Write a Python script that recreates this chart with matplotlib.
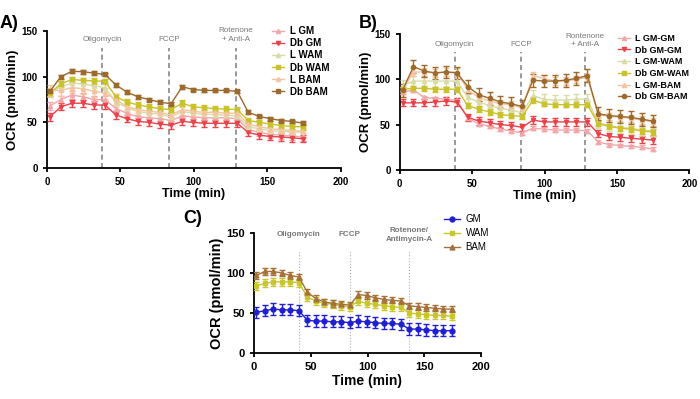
import matplotlib.pyplot as plt
import numpy as np

plt.rcParams['font.family'] = ['Liberation Sans', 'DejaVu Sans']

# measurement times (min)
t = [2, 9.5, 17, 24.5, 32, 39.5, 47, 54.5, 62, 69.5, 77, 84.5,
     92, 99.5, 107, 114.5, 122, 129.5, 137, 144.5, 152, 159.5, 167, 174.5]

# panel A
a_names = ["L GM", "Db GM", "L WAM", "Db WAM", "L BAM", "Db BAM"]
a_l_gm = [68, 75, 80, 78, 75, 75, 65, 60, 56, 55, 54, 52, 57, 56, 55, 55, 55, 54, 42, 39, 37, 36, 35, 34]
a_db_gm = [56, 67, 71, 71, 69, 69, 58, 54, 51, 50, 48, 47, 51, 50, 49, 49, 49, 49, 39, 36, 34.5, 34, 33, 32]
a_l_wam = [83, 89, 93, 92, 90, 88, 72, 66, 62, 60, 59, 56, 62, 60, 59, 58.5, 58, 57, 45, 43, 41, 40, 39.5, 39]
a_db_wam = [82, 92, 97, 96, 95.5, 95, 78, 72.5, 69, 67, 65, 64, 71, 67, 66, 65, 64.5, 64, 52, 50, 48, 46.5, 45.5, 45]
a_l_bam = [85, 85, 88, 87, 84, 82, 75, 67, 64, 62, 61, 58, 64, 62, 61, 61, 60, 60, 48, 45, 43, 42, 41, 40]
a_db_bam = [84, 100, 106, 105.5, 104, 102.5, 91, 83, 78, 75, 72, 70.5, 89, 86, 85, 85, 85, 84, 61, 56.5, 54, 52, 51, 49]
a_err = [4, 4, 5, 3, 6, 2]

# panel B
b_names = ["L GM-GM", "Db GM-GM", "L GM-WAM", "Db GM-WAM", "L GM-BAM", "Db GM-BAM"]
b_l_gm = [86, 88, 80, 79, 78, 77, 57, 51, 48, 45, 43, 41, 46, 45, 44, 44, 44, 43, 31, 28, 27, 26, 25, 23]
b_db_gm = [74, 74, 74, 75, 76, 75, 58, 54, 52, 50, 49, 47, 55, 53, 53, 53, 53, 53, 40, 37, 36, 35, 34, 33]
b_l_wam = [93, 98, 98, 98, 98, 98, 80, 75, 71, 68, 66, 63, 82, 78, 77, 77, 78, 78, 52, 49, 47, 46, 44, 43]
b_db_wam = [89, 90, 90, 89, 89, 89, 71, 67, 64, 61, 60, 59, 77, 73, 72, 72, 72, 72, 51, 48, 46, 45, 43, 42]
b_l_bam = [88, 108, 108, 107, 108, 108, 88, 80, 76, 73, 72, 68, 104, 101, 98, 98, 100, 102, 61, 59, 58, 57, 55, 53]
b_db_bam = [88, 114, 109, 107, 108, 107, 92, 83, 79, 75, 73, 70, 99, 98, 98, 99, 101, 104, 62, 60, 59, 58, 56, 54]
b_err = [2, 4, 6, 3, 4, 7]

# panel C
c_names = ["GM", "WAM", "BAM"]
c_gm = [51, 53, 55, 54, 54, 53, 41, 40, 40, 39, 39, 38, 40, 39, 38, 37, 37, 36, 30, 30, 29, 28, 28, 28]
c_wam = [84, 87, 89, 89, 89, 88, 70, 65, 62, 61, 59, 58, 65, 62, 61, 59, 58, 57, 50, 49, 48, 47, 47, 46]
c_bam = [97, 102, 102, 100, 97, 95, 76, 68, 64, 62, 61, 60, 73, 72, 69, 67, 66, 65, 59, 58, 57, 56, 55, 55]
c_err = [7, 5, 4]

ab_colors = ["#f2a7a9", "#e8424a", "#d9dca6", "#c9c22a", "#f5c3a0", "#9b6a2c"]
a_markers = ["^", "v", "^", "s", "^", "s"]
b_markers = ["^", "v", "^", "s", "^", "o"]
c_colors = ["#1f1fd0", "#c8c62c", "#a5713a"]
c_markers = ["o", "s", "^"]

fig = plt.figure(figsize=(7, 3.99), dpi=100)


def style(ax, fs_tick, fs_lab):
    ax.set_xlim(0, 200)
    ax.set_ylim(0, 150)
    ax.set_xticks([0, 50, 100, 150, 200])
    ax.set_yticks([0, 50, 100, 150])
    for s in ["top", "right"]:
        ax.spines[s].set_visible(False)
    for s in ["left", "bottom"]:
        ax.spines[s].set_linewidth(1.3)
    ax.tick_params(width=1.3, length=3, labelsize=fs_tick)
    for lab in ax.get_xticklabels() + ax.get_yticklabels():
        lab.set_fontweight("bold")
    ax.set_xlabel("Time (min)", fontsize=fs_lab, fontweight="bold", labelpad=1)
    ax.set_ylabel("OCR (pmol/min)", fontsize=fs_lab + 0.5, fontweight="bold", labelpad=2)


def injections(ax, xs, labels, ys, top, ls, lw, col, bold):
    for x, lab, y in zip(xs, labels, ys):
        ax.plot([x, x], [0, top], ls=ls, color=col, lw=lw, zorder=1)
        ax.text(x, y, lab, ha="center", va="bottom", fontsize=5.8, color="#777777",
                fontweight="bold" if bold else "normal", linespacing=1.3)


def draw(ax, series, names, colors, markers, errs, ms):
    handles = []
    for ys, n, c, m, e in zip(series, names, colors, markers, errs):
        cont = ax.errorbar(t, ys, yerr=e, color=c, marker=m, ms=ms, lw=1, capsize=2,
                           elinewidth=1, label=n, zorder=3)
        handles.append(cont.lines[0])
    return handles


# A
axA = fig.add_axes([0.067, 0.579, 0.42, 0.343])
hA = draw(axA, [a_l_gm, a_db_gm, a_l_wam, a_db_wam, a_l_bam, a_db_bam],
          a_names, ab_colors, a_markers, a_err, 3)
injections(axA, [37.5, 83, 128.5], ["Oligomycin", "FCCP", "Rotenone\n+ Anti-A"],
           [137, 137, 137], 132, (0, (3, 2)), 1.2, "#888888", False)
style(axA, 7, 9)
axA.legend(hA, a_names, loc="upper left", bbox_to_anchor=(0.735, 1.1), frameon=False,
           handlelength=1.3, handletextpad=0.6, labelspacing=0.22,
           prop={"weight": "bold", "size": 7})
fig.text(0.0, 0.93, "A)", fontsize=13, fontweight="bold")

# B
axB = fig.add_axes([0.571, 0.574, 0.414, 0.341])
hB = draw(axB, [b_l_gm, b_db_gm, b_l_wam, b_db_wam, b_l_bam, b_db_bam],
          b_names, ab_colors, b_markers, b_err, 3)
injections(axB, [38, 83.5, 128], ["Oligomycin", "FCCP", "Rontenone\n+ Anti-A"],
           [134, 134, 134], 130, (0, (3, 2)), 1.2, "#888888", False)
style(axB, 7, 9)
axB.legend(hB, b_names, loc="upper left", bbox_to_anchor=(0.725, 1.06), frameon=False,
           handlelength=1.3, handletextpad=0.6, labelspacing=0.3,
           prop={"weight": "bold", "size": 6.5})
fig.text(0.513, 0.93, "B)", fontsize=13, fontweight="bold")

# C
axC = fig.add_axes([0.363, 0.115, 0.324, 0.301])
hC = draw(axC, [c_gm, c_wam, c_bam], c_names, c_colors, c_markers, c_err, 3.5)
injections(axC, [39.5, 84.5, 137], ["Oligomycin", "FCCP", "Rotenone/\nAntimycin-A"],
           [144, 144, 138], 127, ":", 0.8, "#aaaaaa", True)
style(axC, 8, 10)
axC.legend(hC, c_names, loc="upper left", bbox_to_anchor=(0.8, 1.23), frameon=False,
           fontsize=7, handlelength=1.6, handletextpad=0.6, labelspacing=0.4)
fig.text(0.262, 0.44, "C)", fontsize=13, fontweight="bold")

fig.savefig("out.png", dpi=100)
